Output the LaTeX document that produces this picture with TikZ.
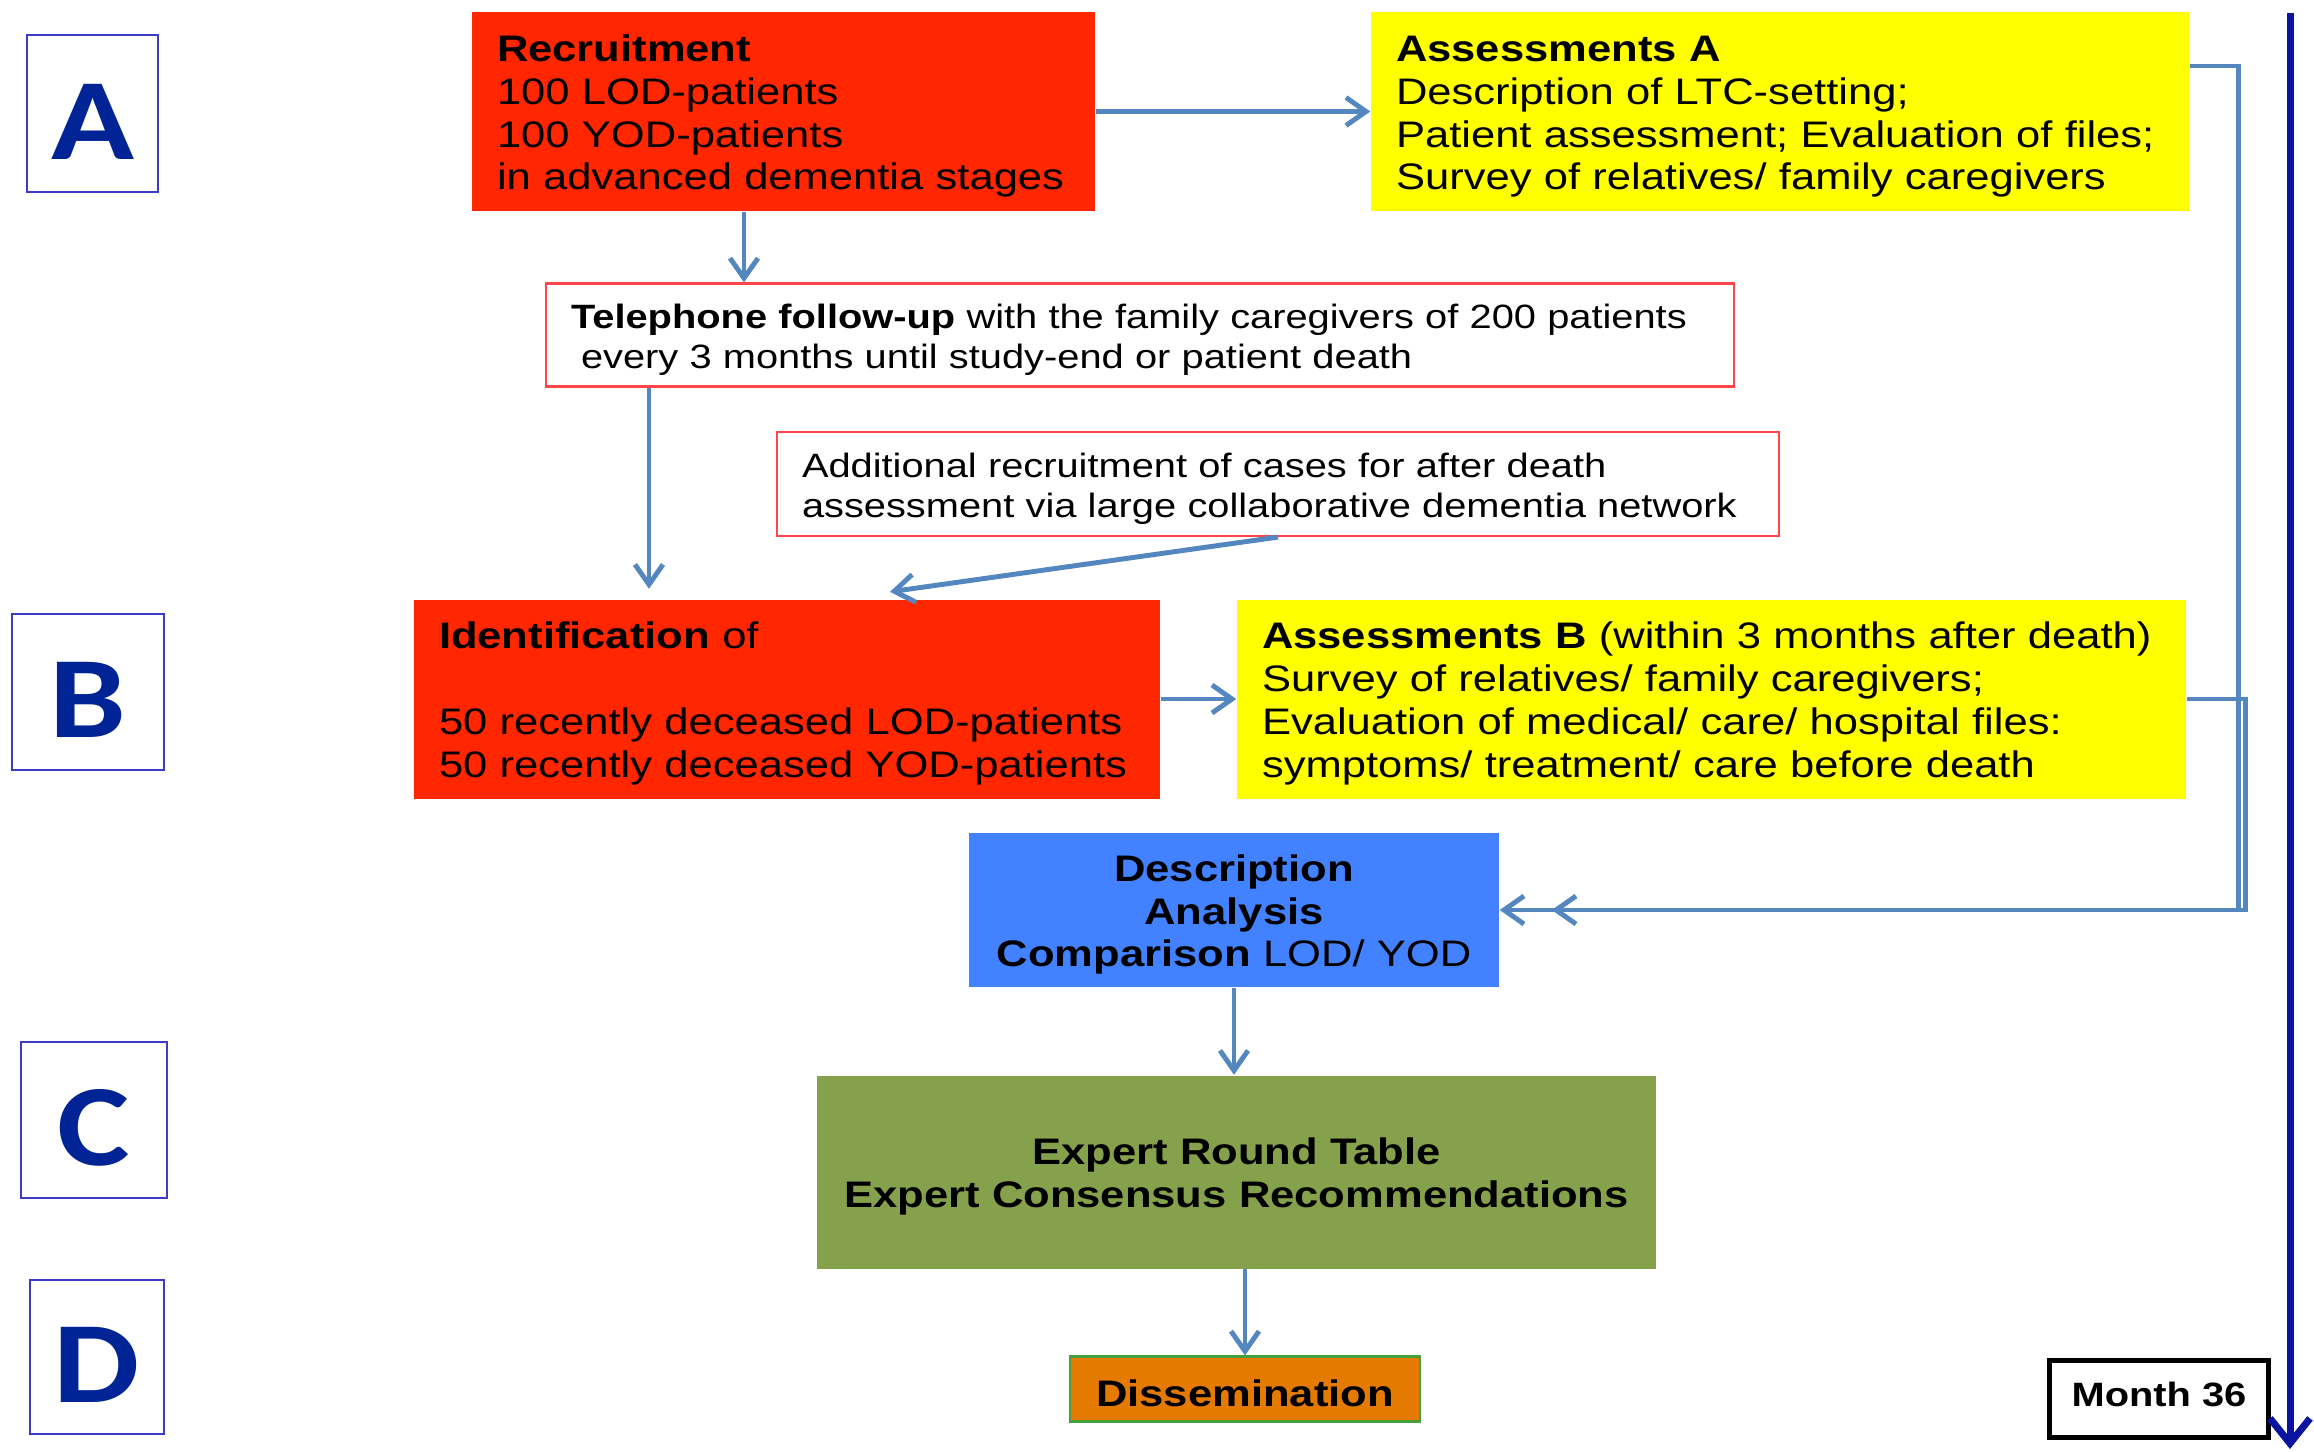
\documentclass[tikz,border=0pt]{standalone}
\usepackage{fontspec}
\setmainfont{Liberation Sans}[FakeStretch=1.18]
\newfontfamily\letterfont{Carlito}[FakeStretch=1.18]
\usepackage{tikz}
\usetikzlibrary{arrows.meta}

\definecolor{recred}{RGB}{255,38,0}
\definecolor{assyellow}{RGB}{255,255,0}
\definecolor{anablue}{RGB}{66,129,255}
\definecolor{expgreen}{RGB}{134,161,76}
\definecolor{disorange}{RGB}{228,122,0}
\definecolor{disborder}{RGB}{70,160,60}
\definecolor{linkblue}{RGB}{84,134,192}
\definecolor{timeblue}{RGB}{10,20,160}
\definecolor{letterblue}{RGB}{0,35,150}
\definecolor{frameblue}{RGB}{60,60,200}
\definecolor{thinred}{RGB}{255,70,70}

\tikzset{
	mainsize/.style={font=\fontsize{10.5}{12.2}\selectfont},
	smallsize/.style={font=\fontsize{9.6}{11.4}\selectfont},
	block/.style={inner xsep=0.25cm, inner ysep=0pt, align=left},
	filled/.style={block, fill=#1, mainsize, execute at begin node={\rule{0pt}{10.2pt}}},
	note/.style={block, draw=thinred, line width=0.6pt, fill=white, smallsize, execute at begin node={\rule{0pt}{9.5pt}}},
	phase/.style={draw=frameblue, line width=0.8pt, text=letterblue, font=\letterfont\fontsize{33}{33}\selectfont\bfseries, execute at begin node={\rule{0pt}{26pt}}},
	monthbox/.style={draw, line width=1.3pt, smallsize, execute at begin node={\rule[-2.5pt]{0pt}{2.5pt}}},
	conn/.style={draw=linkblue, line width=1.4pt, -{Straight Barb[length=0.2cm, width=0.28cm]}}
}

\begin{document}
\begin{tikzpicture}
	\useasboundingbox (0,0) rectangle (23.14,-14.51);
	\node[phase, minimum width=1.31cm, minimum height=1.57cm] (phaseA) at (0.925,-1.135) {A};
	\node[phase, minimum width=1.52cm, minimum height=1.56cm] (phaseB) at (0.88,-6.92) {B};
	\node[phase, minimum width=1.46cm, minimum height=1.56cm] (phaseC) at (0.94,-11.20) {C};
	\node[phase, minimum width=1.34cm, minimum height=1.54cm] (phaseD) at (0.97,-13.57) {D};

	\node[filled=recred, text width=5.73cm, minimum height=1.99cm] (recruit) at (7.835,-1.115) {\textbf{Recruitment}\\100 LOD-patients\\100 YOD-patients\\in advanced dementia stages};
	\node[filled=assyellow, text width=7.68cm, minimum height=1.99cm] (assessA) at (17.80,-1.115) {\textbf{Assessments A}\\Description of LTC-setting;\\Patient assessment; Evaluation of files;\\Survey of relatives/ family caregivers};
	\node[note, text width=11.38cm, minimum height=1.03cm] (phone) at (11.40,-3.35) {\textbf{Telephone follow-up} with the family caregivers of 200 patients\\\hspace*{0.1cm}every 3 months until study-end or patient death};
	\node[note, text width=9.52cm, minimum height=1.04cm] (extra) at (12.78,-4.84) {Additional recruitment of cases for after death\\assessment via large collaborative dementia network};
	\node[filled=recred, text width=6.96cm, minimum height=1.99cm] (ident) at (7.87,-6.99) {\textbf{Identification} of\\~\\50 recently deceased LOD-patients\\50 recently deceased YOD-patients};
	\node[filled=assyellow, text width=8.99cm, minimum height=1.99cm] (assessB) at (17.115,-6.99) {\textbf{Assessments B} (within 3 months after death)\\Survey of relatives/ family caregivers;\\Evaluation of medical/ care/ hospital files:\\symptoms/ treatment/ care before death};
	\node[filled=anablue, align=center, inner xsep=0.1cm, text width=5.10cm, minimum height=1.54cm] (analysis) at (12.34,-9.10) {\textbf{Description}\\\textbf{Analysis}\\\textbf{Comparison} LOD/ YOD};
	\node[filled=expgreen, align=center, inner xsep=0.1cm, text width=8.19cm, minimum height=1.93cm] (round) at (12.365,-11.72) {\textbf{Expert Round Table}\\\textbf{Expert Consensus Recommendations}};
	\node[filled=disorange, draw=disborder, line width=0.6pt, minimum width=3.50cm, minimum height=0.65cm] (dissem) at (12.45,-13.89) {\textbf{Dissemination}};
	\node[monthbox, minimum width=2.19cm, minimum height=0.77cm] (month) at (21.59,-13.99) {\textbf{Month 36}};

	\draw[conn] (recruit.east) -- (assessA.west);
	\draw[conn] ([xshift=-0.395cm]recruit.south) -- ([xshift=-0.395cm]recruit.south |- phone.north);
	\draw[conn, shorten >=0.1cm] ([xshift=-4.91cm]phone.south) -- ([xshift=-4.91cm]phone.south |- ident.north);
	\draw[conn] (extra.south) -- ([xshift=1.03cm, yshift=0.07cm]ident.north);
	\draw[conn] (ident.east) -- (assessB.west);
	\draw[conn] ([yshift=0.455cm]assessA.east) -| ([xshift=7.39cm]analysis.east) -- ([xshift=0.52cm]analysis.east);
	\draw[conn] (assessB.east) -| ([xshift=7.46cm]analysis.east) -- (analysis.east);
	\draw[conn] (analysis.south) -- (analysis.south |- round.north);
	\draw[conn] (round.south -| dissem.north) -- (dissem.north);

	\coordinate (tltop) at (22.90,-0.13);
	\coordinate (tlend) at (22.90,-14.49);
	\draw[draw=timeblue, line width=2pt, -{Straight Barb[length=0.25cm, width=0.4cm]}] (tltop) -- (tlend);
\end{tikzpicture}
\end{document}
